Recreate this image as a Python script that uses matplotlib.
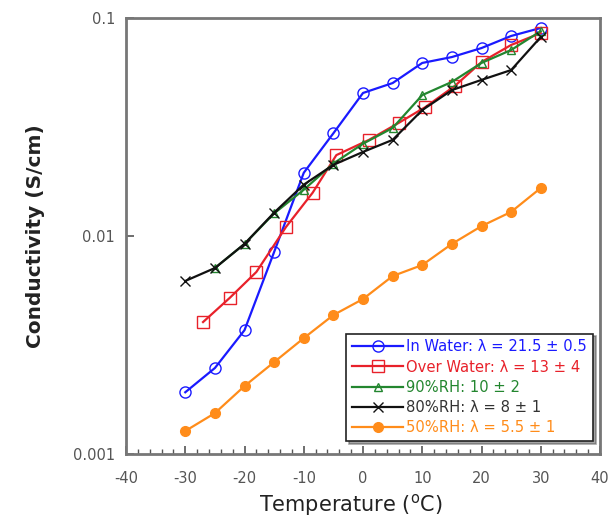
import matplotlib
matplotlib.use("Agg")
import matplotlib.pyplot as plt
from matplotlib.ticker import FixedLocator, MultipleLocator, NullLocator, FixedFormatter

plt.rcParams["axes.unicode_minus"] = False

# Data
water_T = [-30, -25, -20, -15, -10, -5, 0, 5, 10, 15, 20, 25, 30]
water_s = [0.00192, 0.00248, 0.0037, 0.00845, 0.0195, 0.0296, 0.0453, 0.0503, 0.0622, 0.0662, 0.0728, 0.0827, 0.090]

over_T = [-27, -22.5, -18, -13, -8.5, -4.5, 1, 6, 10.5, 15.5, 20, 25, 30]
over_s = [0.00403, 0.0052, 0.00684, 0.011, 0.0158, 0.0235, 0.0276, 0.033, 0.039, 0.0488, 0.0628, 0.0752, 0.0853]

rh90_T = [-25, -20, -15, -10, -5, 0, 5, 10, 15, 20, 25, 30]
rh90_s = [0.00713, 0.0092, 0.0127, 0.0163, 0.0215, 0.0265, 0.0313, 0.0443, 0.0509, 0.0622, 0.0713, 0.087]

rh80_T = [-30, -25, -20, -15, -10, -5, 0, 5, 10, 15, 20, 25, 30]
rh80_s = [0.00622, 0.00713, 0.0092, 0.0128, 0.0172, 0.0212, 0.0243, 0.0276, 0.0378, 0.0467, 0.052, 0.0577, 0.0818]

rh50_T = [-30, -25, -20, -15, -10, -5, 0, 5, 10, 15, 20, 25, 30]
rh50_s = [0.001275, 0.00154, 0.00205, 0.00264, 0.0034, 0.00434, 0.00514, 0.00655, 0.00736, 0.0092, 0.0111, 0.0129, 0.0166]

labels = ["In Water: \u03bb = 21.5 \u00b1 0.5",
          "Over Water: \u03bb = 13 \u00b1 4",
          "90%RH: 10 \u00b1 2",
          "80%RH: \u03bb = 8 \u00b1 1",
          "50%RH: \u03bb = 5.5 \u00b1 1"]
colors = ["#1a1aff", "#e8212a", "#23862f", "#111111", "#ff8c1a"]

fig = plt.figure(figsize=(6.1, 5.23), dpi=100)
ax = fig.add_axes([0.2066, 0.1319, 0.777, 0.8337])

ax.plot(water_T, water_s, color=colors[0], marker="o", markersize=8, lw=1.6,
        markerfacecolor="none", markeredgecolor=colors[0], markeredgewidth=1.0, label=labels[0])
ax.plot(over_T, over_s, color=colors[1], marker="s", markersize=8, lw=1.6,
        markerfacecolor="none", markeredgecolor=colors[1], markeredgewidth=1.0, label=labels[1])
ax.plot(rh90_T, rh90_s, color=colors[2], marker="^", markersize=6, lw=1.6,
        markerfacecolor="none", markeredgecolor=colors[2], markeredgewidth=1.0, label=labels[2])
ax.plot(rh80_T, rh80_s, color=colors[3], marker="x", markersize=7, lw=1.6,
        markeredgewidth=1.0, label=labels[3])
ax.plot(rh50_T, rh50_s, color=colors[4], marker="o", markersize=7, lw=1.6,
        label=labels[4])

ax.set_yscale("log")
ax.set_xlim(-40, 40)
ax.set_ylim(0.001, 0.1)

ax.xaxis.set_major_locator(MultipleLocator(10))
ax.xaxis.set_minor_locator(MultipleLocator(2))
ax.yaxis.set_major_locator(FixedLocator([0.001, 0.01, 0.1]))
ax.yaxis.set_major_formatter(FixedFormatter(["0.001", "0.01", "0.1"]))
ax.yaxis.set_minor_locator(NullLocator())

ax.tick_params(axis="x", which="major", direction="in", length=6, width=1.2,
               color="#555555", labelcolor="#555555", labelsize=10.5, pad=12,
               top=False)
ax.tick_params(axis="x", which="minor", direction="in", length=3.5, width=1.0,
               color="#555555", top=False)
ax.tick_params(axis="y", which="major", direction="in", length=6, width=1.2,
               color="#555555", labelcolor="#555555", labelsize=10.5, pad=8,
               right=False)

for sp in ax.spines.values():
    sp.set_color("#777777")
    sp.set_linewidth(2.0)

ax.set_xlabel("Temperature ($^{\\mathrm{o}}$C)", fontsize=15, color="#222222", va="center")
ax.xaxis.set_label_coords(0.475, -0.117)
ax.set_ylabel("Conductivity (S/cm)", fontsize=14.5, fontweight="bold", color="#222222", labelpad=20)

leg = ax.legend(loc="lower right", bbox_to_anchor=(0.985, 0.03), fontsize=10.6,
                frameon=True, fancybox=False, shadow=True, handlelength=3.5,
                handletextpad=0.2, borderpad=0.4, labelspacing=0.35,
                borderaxespad=0.0)
leg.get_frame().set_edgecolor("#222222")
leg.get_frame().set_linewidth(1.2)
for txt, c in zip(leg.get_texts(), colors):
    txt.set_color(c if c != "#111111" else "#333333")

fig.savefig("out.png", dpi=100)
